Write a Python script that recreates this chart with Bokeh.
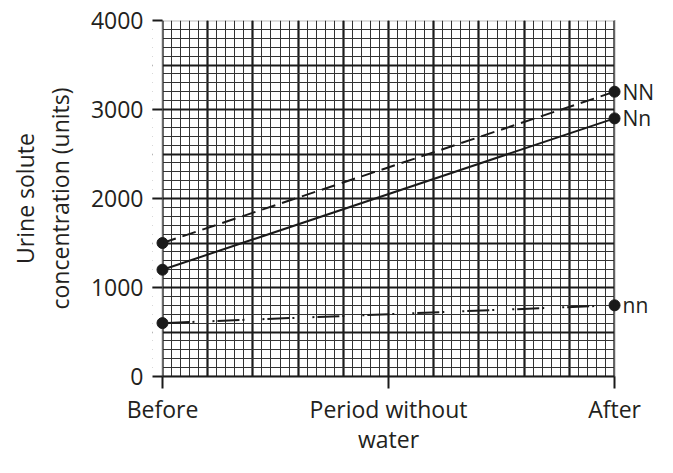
from bokeh.plotting import figure
from bokeh.models import FixedTicker, SingleIntervalTicker, Range1d, BoxAnnotation, ColumnDataSource
from bokeh.core.properties import value
from bokeh.embed import file_html
from bokeh.resources import INLINE

# ---- data ----
genotypes = ["NN", "Nn", "nn"]
before_values = [1500, 1200, 600]
after_values = [3200, 2900, 800]
time_positions = [0, 5, 10]
time_labels = ["Before", "Period without\nwater", "After"]
y_ticks = [0, 1000, 2000, 3000, 4000]
line_dashes = ["14 7", "solid", "2 3 22 3 2 18"]

FONT = "Open Sans"
TXT = "#231f20"
FS = "23px"
K = "#1a1a1a"

x0, x1 = time_positions[0], time_positions[-1]
y0, y1 = y_ticks[0], y_ticks[-1]
# plot frame extended a little on both sides so the end markers and labels are not cut
X_START, X_END = -0.221, 10.95

p = figure(width=657, height=457, output_backend="svg", toolbar_location=None,
           x_range=Range1d(X_START, X_END), y_range=Range1d(y0, y1),
           min_border_left=152, min_border_right=0, min_border_top=20, min_border_bottom=60)
p.background_fill_color = "white"
p.border_fill_color = "white"
p.outline_line_color = None

# graph paper grid
p.xgrid.ticker = SingleIntervalTicker(interval=1, num_minor_ticks=5)
p.ygrid.ticker = SingleIntervalTicker(interval=500, num_minor_ticks=5)
for g in (p.xgrid, p.ygrid):
    g.grid_line_color = K
    g.grid_line_width = 2.2
    g.minor_grid_line_color = "#333333"
    g.minor_grid_line_width = 1

# white masks outside the paper area
p.quad(left=[X_START, x1], right=[x0, X_END], bottom=y0, top=y1,
       fill_color="white", line_color=None)
p.add_layout(BoxAnnotation(left=x0, right=x1, bottom=y0, top=y1, fill_color=None,
                           line_color=K, line_width=2))

# axes
p.xaxis.ticker = FixedTicker(ticks=time_positions)
p.xaxis.bounds = (x0, x1)
p.xaxis.major_label_overrides = {t: l for t, l in zip(time_positions, time_labels)}
p.xaxis.major_tick_out = 12
p.xaxis.major_tick_in = 0
p.xaxis.axis_line_color = K
p.xaxis.axis_line_width = 2
p.xaxis.major_label_standoff = 4
p.xaxis.major_label_text_line_height = 0.95

p.yaxis.ticker = FixedTicker(ticks=y_ticks)
p.yaxis.axis_line_color = None
p.yaxis.major_tick_out = 0
p.yaxis.major_tick_in = 10
p.yaxis.major_label_standoff = 9
for ax in (p.xaxis, p.yaxis):
    ax.major_tick_line_color = K
    ax.major_tick_line_width = 2
    ax.minor_tick_line_color = None
    ax.major_label_text_font = FONT
    ax.major_label_text_font_size = FS
    ax.major_label_text_color = TXT
p.yaxis.axis_label = "Urine solute\nconcentration (units)"
p.yaxis.axis_label_text_font = FONT
p.yaxis.axis_label_text_font_size = FS
p.yaxis.axis_label_text_font_style = "normal"
p.yaxis.axis_label_text_color = TXT
p.yaxis.axis_label_text_line_height = 1.1
p.yaxis.axis_label_standoff = 12

# lines and points
for g, b, a, d in zip(genotypes, before_values, after_values, line_dashes):
    xs = [x0, x1]
    ys = [b, a]
    p.line(xs, ys, line_color=K, line_width=2, line_dash=d)
    p.scatter(xs, ys, size=11, fill_color=K, line_color=K)

src = ColumnDataSource(dict(x=[x1] * len(genotypes), y=after_values, t=genotypes))
p.text(x="x", y="y", text="t", source=src, x_offset=8, text_baseline="middle",
       text_font=value(FONT), text_font_size="21px", text_color=TXT)

open("out.html", "w").write(file_html(p, INLINE))
